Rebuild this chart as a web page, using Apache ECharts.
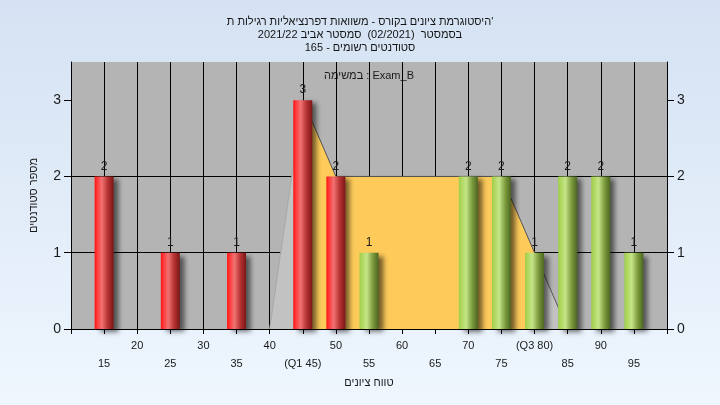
<!DOCTYPE html>
<html>
<head>
<meta charset="utf-8">
<script src="https://cdn.jsdelivr.net/npm/echarts@6/dist/echarts.min.js"></script>
<style>
html,body{margin:0;padding:0;}
#c{width:720px;height:405px;}
</style>
</head>
<body>
<div id="c"></div>
<script>
// ---- data ----
const titleLines = [
  "היסטוגרמת ציונים בקורס - משוואות דפרנציאליות רגילות ת'",
  "בסמסטר  (02/2021)  סמסטר אביב 2021/22",
  "סטודנטים רשומים - 165"
];
const taskLabel = "במשימה : Exam_B";
const xAxisName = "טווח ציונים";
const yAxisName = "מספר סטודנטים";
const scores = [15, 25, 35, 45, 50, 55, 70, 75, 80, 85, 90, 95];
const counts = [2, 1, 1, 3, 2, 1, 2, 2, 1, 2, 2, 1];
const redMaxScore = 50;          // bars up to this score are red, others green
const curveScores = [40, 45, 50, 75, 80, 85];
const curveCounts = [0, 3, 2, 2, 1, 0];
const q1 = 45, q3 = 80;
const yTickValues = [0, 1, 2, 3];

// ---- styles ----
function grad(stops) {
  return new echarts.graphic.LinearGradient(0, 0, 1, 0, stops.map(s => ({offset: s[0], color: s[1]})));
}
const redGrad = () => grad([[0,'#ff1212'],[0.12,'#ff3434'],[0.38,'#f27272'],[0.7,'#b53232'],[1,'#7c1616']]);
const greenGrad = () => grad([[0,'#9ecd4a'],[0.12,'#acd65c'],[0.38,'#c6e488'],[0.7,'#7c9c3e'],[1,'#4c6620']]);

const barData = scores.map((s, i) => ({
  value: [s, counts[i]],
  itemStyle: { color: s <= redMaxScore ? redGrad() : greenGrad() }
}));

const curve = curveScores.map((s, i) => [s, curveCounts[i]]);
const leftCurve = curve.filter(p => p[0] <= q1);
const midCurve = curve.filter(p => p[0] >= q1 && p[0] <= q3);
const rightCurve = curve.filter(p => p[0] >= q3);

const font = "'Liberation Sans', Arial, sans-serif";

const chart = echarts.init(document.getElementById('c'), null, {renderer: 'canvas'});
chart.setOption({
  animation: false,
  backgroundColor: new echarts.graphic.LinearGradient(0, 0, 0, 1, [
    {offset: 0, color: '#d4e2f3'}, {offset: 1, color: '#eff6fe'}
  ]),
  title: {
    text: titleLines.join('\n'),
    left: 'center',
    top: 10,
    textStyle: {fontFamily: font, fontSize: 11, fontWeight: 'normal', color: '#151515', lineHeight: 13}
  },
  graphic: [{
    type: 'text',
    x: 369, y: 76,
    style: {text: taskLabel, font: '11px ' + font, fill: '#1a1a1a', textAlign: 'center', textVerticalAlign: 'middle'}
  }],
  grid: {
    left: 71, right: 53, top: 62, bottom: 76,
    show: true, backgroundColor: '#b4b4b4', borderWidth: 0
  },
  xAxis: {
    type: 'value', min: 10, max: 100, interval: 5,
    name: xAxisName, nameLocation: 'middle', nameGap: 46,
    nameTextStyle: {fontFamily: font, fontSize: 11, color: '#1a1a1a'},
    axisLine: {show: true, lineStyle: {color: '#000', width: 1}},
    axisTick: {show: true, length: 5, lineStyle: {color: '#000'}},
    splitLine: {show: true, lineStyle: {color: '#000', width: 1}},
    axisLabel: {
      margin: 8, fontFamily: font, fontSize: 11, color: '#1a1a1a', lineHeight: 18,
      formatter: function (v) {
        if (v === 10 || v === 100) return '';
        let s = String(v);
        if (v === q1) s = '(Q1 ' + v + ')';
        if (v === q3) s = '(Q3 ' + v + ')';
        return v % 10 === 0 ? s : '\n' + s;
      }
    }
  },
  yAxis: [{
    type: 'value', min: 0, max: 3.5, interval: 1, position: 'left',
    name: yAxisName, nameLocation: 'middle', nameGap: 32,
    nameTextStyle: {fontFamily: font, fontSize: 11, color: '#1a1a1a'},
    axisLine: {show: true, lineStyle: {color: '#000', width: 1}},
    axisTick: {show: true, length: 7, lineStyle: {color: '#000'}, customValues: yTickValues},
    axisLabel: {margin: 10, fontFamily: font, fontSize: 14, color: '#1a1a1a', customValues: yTickValues,
      formatter: v => Number.isInteger(v) ? String(v) : ''},
    splitLine: {show: true, showMaxLine: false, lineStyle: {color: '#000', width: 1}}
  }, {
    type: 'value', min: 0, max: 3.5, interval: 1, position: 'right',
    axisLine: {show: true, lineStyle: {color: '#000', width: 1}},
    axisTick: {show: true, length: 7, lineStyle: {color: '#000'}, customValues: yTickValues},
    axisLabel: {margin: 10, fontFamily: font, fontSize: 14, color: '#1a1a1a', customValues: yTickValues,
      formatter: v => Number.isInteger(v) ? String(v) : ''},
    splitLine: {show: false}
  }],
  series: [{
    type: 'line', data: leftCurve, symbol: 'none', z: 1,
    lineStyle: {color: '#a8a8a8', width: 1},
    areaStyle: {color: '#c2c2c2', opacity: 1}
  }, {
    type: 'line', data: midCurve, symbol: 'none', z: 1,
    lineStyle: {color: '#555', width: 1},
    areaStyle: {color: '#fecb5a', opacity: 1}
  }, {
    type: 'line', data: rightCurve, symbol: 'none', z: 1,
    lineStyle: {color: '#555', width: 1},
    areaStyle: {color: '#c2c2c2', opacity: 1}
  }, {
    type: 'bar', data: barData, barWidth: 19, z: 3,
    itemStyle: {shadowColor: 'rgba(0,0,0,0.55)', shadowBlur: 5, shadowOffsetX: 5, shadowOffsetY: 3},
    label: {show: true, position: 'top', distance: 4, fontFamily: font, fontSize: 12, color: '#1a1a1a',
      formatter: p => String(p.value[1])}
  }]
});
</script>
</body>
</html>
